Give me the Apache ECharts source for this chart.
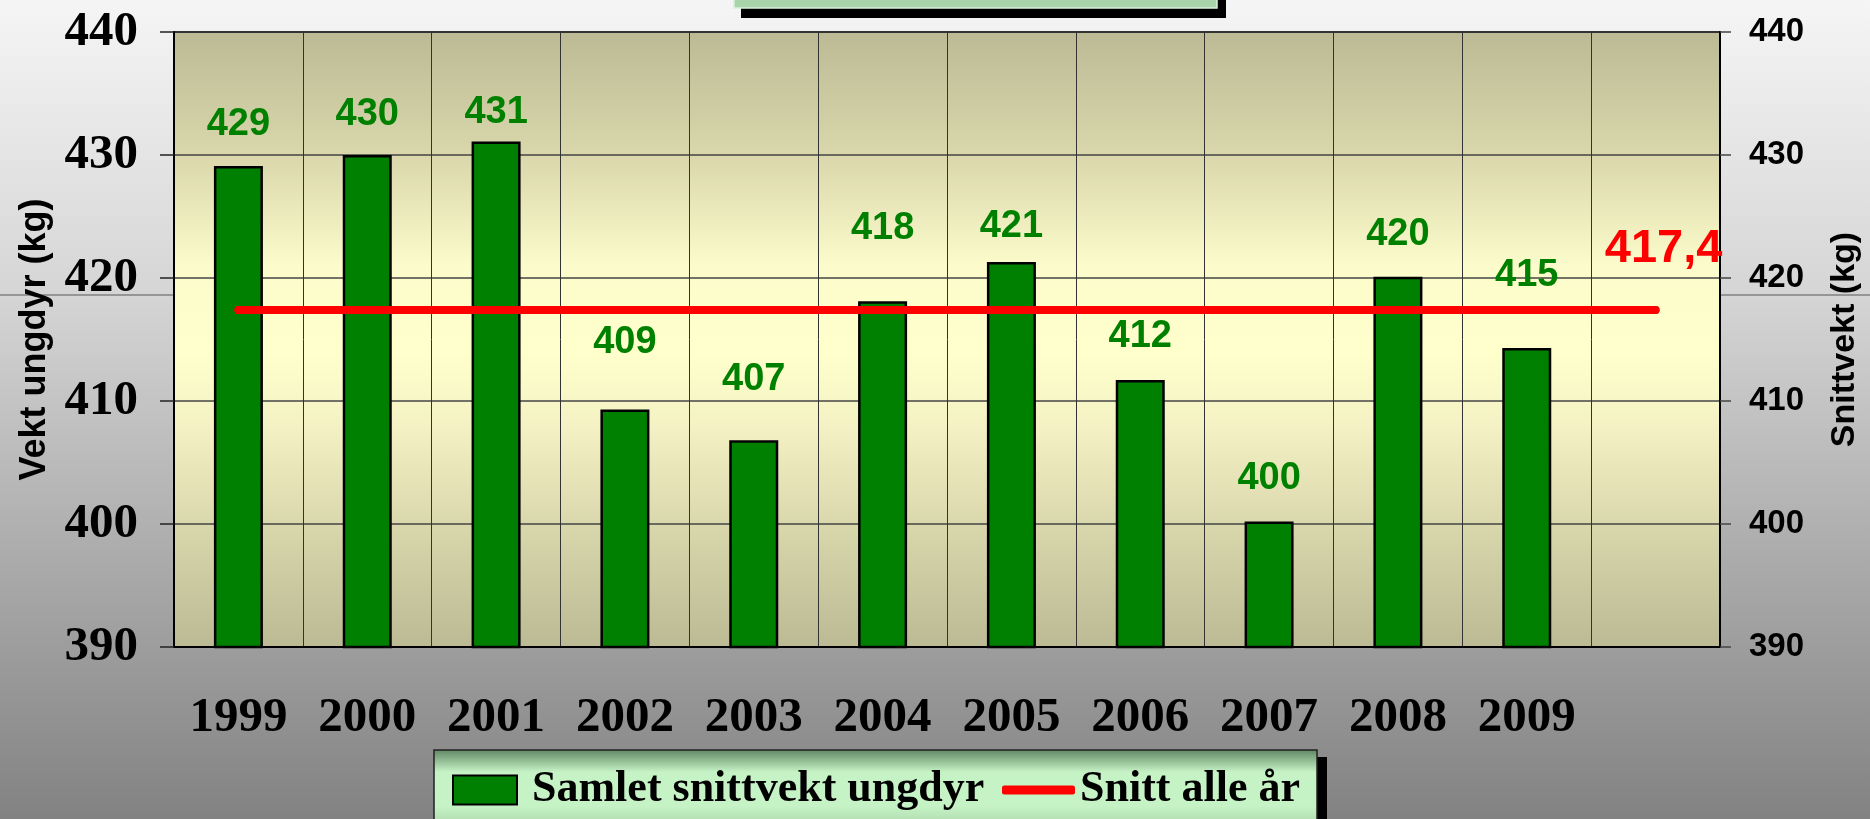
<!DOCTYPE html>
<html>
<head>
<meta charset="utf-8">
<title>Vekt ungdyr</title>
<script src="https://cdn.jsdelivr.net/npm/echarts@6/dist/echarts.min.js"></script>
<style>
  html, body { margin: 0; padding: 0; }
  #main { width: 1870px; height: 819px; }
</style>
</head>
<body>
<div id="main"></div>
<script>
// data
var years = ['1999', '2000', '2001', '2002', '2003', '2004', '2005', '2006', '2007', '2008', '2009', ''];
var weights = [429.1, 430.0, 431.1, 409.3, 406.8, 418.1, 421.3, 411.7, 400.2, 420.1, 414.3];
var weightLabels = ['429', '430', '431', '409', '407', '418', '421', '412', '400', '420', '415'];
var average = [417.4, 417.4, 417.4, 417.4, 417.4, 417.4, 417.4, 417.4, 417.4, 417.4, 417.4, 417.4];

// layout only: how far each value label sits above its bar (px, to label centre)
var labelGap = [43, 41, 30, 68, 62, 74, 36, 45, 44, 43, 74];

var serif = 'Liberation Serif';
var sans = 'Liberation Sans';
var green = '#008000';

var barData = weights.map(function (v, i) {
    return { value: v, label: { distance: labelGap[i] - 20 } };
});
var avgData = average.map(function (v, i) {
    return i === average.length - 1 ? { value: v, label: { show: true } } : v;
});

var option = {
    animation: false,
    graphic: [
        // page background
        {
            type: 'rect', z: -20, silent: true,
            shape: { x: 0, y: 0, width: 1870, height: 819 },
            style: {
                fill: {
                    type: 'linear', x: 0, y: 0, x2: 0, y2: 1,
                    colorStops: [
                        { offset: 0, color: '#f5f5f5' },
                        { offset: 0.35, color: '#d6d6d6' },
                        { offset: 1, color: '#828282' }
                    ]
                }
            }
        },
        {
            type: 'line', z: -15, silent: true,
            shape: { x1: 0, y1: 295, x2: 1870, y2: 295 },
            style: { stroke: '#808080', lineWidth: 1.5 }
        },
        // cut-off title box at the top
        {
            type: 'rect', z: -10, silent: true,
            shape: { x: 741, y: -10, width: 485, height: 28 },
            style: { fill: '#000' }
        },
        {
            type: 'rect', z: -9, silent: true,
            shape: { x: 734, y: -10, width: 483, height: 18 },
            style: { fill: '#a9d4aa', stroke: '#d8efd8', lineWidth: 1.5 }
        },
        // legend box
        {
            type: 'rect', z: -10, silent: true,
            shape: { x: 444, y: 757, width: 883, height: 80 },
            style: { fill: '#000' }
        },
        {
            type: 'rect', z: -9, silent: true,
            shape: { x: 434, y: 750, width: 883, height: 80 },
            style: {
                fill: {
                    type: 'linear', x: 0, y: 0, x2: 0, y2: 1,
                    colorStops: [
                        { offset: 0, color: '#5f8561' },
                        { offset: 0.28, color: '#c6f3c6' },
                        { offset: 0.7, color: '#c6f3c6' },
                        { offset: 1, color: '#a6d2a6' }
                    ]
                },
                stroke: '#222', lineWidth: 1.5
            }
        }
    ],
    grid: {
        left: 174, right: 148, top: 32, bottom: 172,
        show: true,
        borderColor: '#000',
        borderWidth: 2,
        backgroundColor: {
            type: 'linear', x: 0, y: 0, x2: 0, y2: 1,
            colorStops: [
                { offset: 0, color: '#bbba94' },
                { offset: 0.2, color: '#d9d7ab' },
                { offset: 0.38, color: '#fcfbcb' },
                { offset: 0.52, color: '#ffffcc' },
                { offset: 0.64, color: '#f4f2c4' },
                { offset: 0.82, color: '#d6d4a9' },
                { offset: 1, color: '#bbba94' }
            ]
        }
    },
    legend: [
        {
            data: ['Samlet snittvekt ungdyr'],
            left: 452, top: 768, padding: 0,
            icon: 'rect', itemWidth: 64, itemHeight: 29,
            textStyle: { fontFamily: serif, fontWeight: 'bold', fontSize: 44, color: '#000', padding: [0, 0, 0, 10] }
        },
        {
            data: ['Snitt alle år'],
            left: 1002, top: 768, padding: 0,
            icon: 'roundRect', itemWidth: 73, itemHeight: 9,
            textStyle: { fontFamily: serif, fontWeight: 'bold', fontSize: 44, color: '#000' }
        }
    ],
    xAxis: [
        {
            type: 'category', data: years, position: 'bottom',
            axisLine: { lineStyle: { color: '#000', width: 2 } },
            axisTick: { interval: 0, length: 15, lineStyle: { color: '#222', width: 1.5 } },
            axisLabel: { interval: 0, margin: 47, fontFamily: serif, fontWeight: 'bold', fontSize: 49, color: '#000' },
            splitLine: { show: true, interval: 0, lineStyle: { color: '#333', width: 1 } }
        },
        {
            type: 'category', data: years, position: 'bottom',
            axisLine: { show: false },
            axisTick: { interval: 0, alignWithLabel: true, length: 11, lineStyle: { color: '#222', width: 1.5 } },
            axisLabel: { show: false },
            splitLine: { show: false }
        }
    ],
    yAxis: [
        {
            type: 'value', min: 390, max: 440, interval: 10,
            name: 'Vekt ungdyr (kg)', nameLocation: 'middle', nameGap: 121,
            nameTextStyle: { fontFamily: sans, fontWeight: 'bold', fontSize: 36, color: '#000' },
            axisLine: { show: true, lineStyle: { color: '#000', width: 2 } },
            axisTick: { show: true, length: 14, lineStyle: { color: '#222', width: 1.5 } },
            axisLabel: { margin: 36, fontFamily: serif, fontWeight: 'bold', fontSize: 49, color: '#000' },
            splitLine: { show: true, lineStyle: { color: '#444', width: 1.5 } }
        },
        {
            type: 'value', min: 390, max: 440, interval: 10, position: 'right',
            name: 'Snittvekt (kg)', nameLocation: 'middle', nameGap: 108,
            nameTextStyle: { fontFamily: sans, fontWeight: 'bold', fontSize: 34, color: '#000' },
            axisLine: { show: true, lineStyle: { color: '#000', width: 2 } },
            axisTick: { show: true, length: 11, lineStyle: { color: '#444', width: 1.5 } },
            axisLabel: { margin: 29, fontFamily: sans, fontWeight: 'bold', fontSize: 33, color: '#000' },
            splitLine: { show: false }
        }
    ],
    series: [
        {
            name: 'Samlet snittvekt ungdyr',
            type: 'bar',
            xAxisIndex: 0, yAxisIndex: 0,
            barWidth: 49,
            data: barData,
            itemStyle: { color: green, borderColor: '#000', borderWidth: 2.5 },
            label: {
                show: true, position: 'top',
                fontFamily: sans, fontWeight: 'bold', fontSize: 38, color: green,
                formatter: function (p) { return weightLabels[p.dataIndex]; }
            },
            z: 2
        },
        {
            name: 'Snitt alle år',
            type: 'line',
            xAxisIndex: 0, yAxisIndex: 0,
            data: avgData,
            symbol: 'circle', symbolSize: 8, showSymbol: true,
            itemStyle: { color: '#ff0000' },
            lineStyle: { color: '#ff0000', width: 8, cap: 'round' },
            label: {
                show: false, position: 'top', distance: 33, offset: [8, 0],
                fontFamily: sans, fontWeight: 'bold', fontSize: 47, color: '#ff0000',
                formatter: function (p) { return String(p.value).replace('.', ','); }
            },
            z: 3
        }
    ]
};

var chart = echarts.init(document.getElementById('main'));
chart.setOption(option);
</script>
</body>
</html>
